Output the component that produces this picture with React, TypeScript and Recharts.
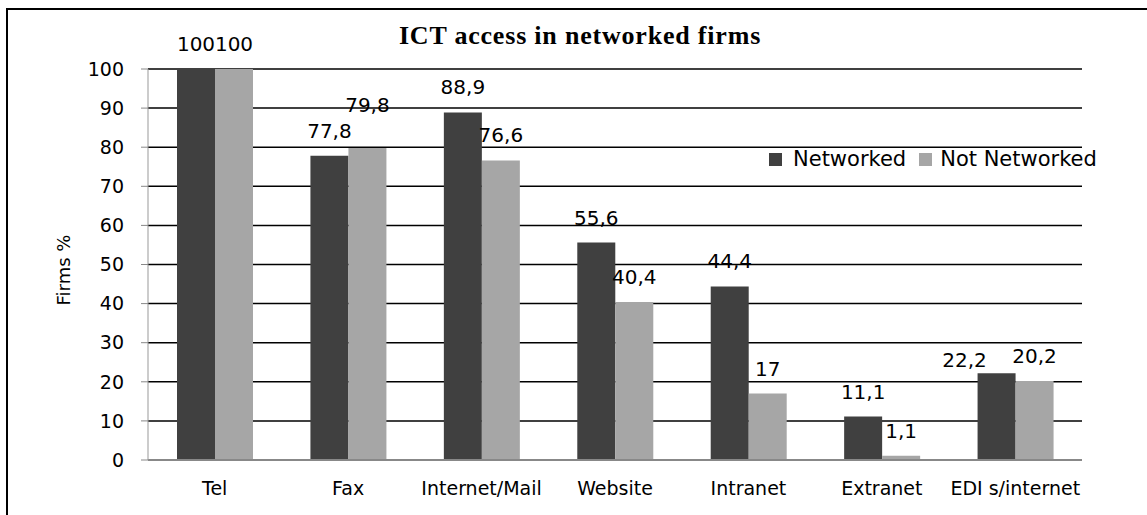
import React from 'react';
import { BarChart, Bar, XAxis, YAxis, CartesianGrid, LabelList, Legend } from 'recharts';

const categories = ['Tel', 'Fax', 'Internet/Mail', 'Website', 'Intranet', 'Extranet', 'EDI s/internet'];
const networked = [100, 77.8, 88.9, 55.6, 44.4, 11.1, 22.2];
const notNetworked = [100, 79.8, 76.6, 40.4, 17, 1.1, 20.2];
const yTicks = [0, 10, 20, 30, 40, 50, 60, 70, 80, 90, 100];

const data = categories.map((cat, i) => ({
  cat,
  networked: networked[i],
  notNetworked: notNetworked[i],
}));

const DARK = '#404040';
const LIGHT = '#a6a6a6';
const FONT = '"DejaVu Sans", sans-serif';

const fmt = (v: any) => String(v).replace('.', ',');

// labels of two close bars get nudged apart, like the spreadsheet did
const makeLabel = (series: 'networked' | 'notNetworked') => (props: any) => {
  const { x, y, width, value, index } = props;
  const mine = series === 'networked' ? networked[index] : notNetworked[index];
  const other = series === 'networked' ? notNetworked[index] : networked[index];
  const diff = mine - other;
  let dx = 0;
  let dy = 0;
  if (diff > 0 && diff < 5) {
    if (series === 'notNetworked') dy = -18;
    else {
      dx = -32;
      dy = 12;
    }
  }
  return (
    <text
      x={x + width / 2 + dx}
      y={y - 18 + dy}
      textAnchor="middle"
      fill="#000"
      fontSize={20}
      fontFamily={FONT}
    >
      {fmt(value)}
    </text>
  );
};

const renderLegend = (props: any) => {
  const { payload } = props;
  return (
    <div style={{ display: 'flex', alignItems: 'center', fontFamily: FONT, fontSize: 21, color: '#000', whiteSpace: 'nowrap' }}>
      {payload.map((p: any, i: number) => (
        <span key={i} style={{ display: 'flex', alignItems: 'center', marginRight: 13 }}>
          <span style={{ width: 13, height: 13, background: p.color, display: 'inline-block', marginRight: i === 0 ? 11 : 8 }} />
          {p.value}
        </span>
      ))}
    </div>
  );
};

export default function App() {
  return (
    <div style={{ position: 'absolute', left: 0, top: 0, width: 1147, height: 515, overflow: 'hidden', background: '#fff' }}>
      <div style={{ position: 'absolute', left: 6, top: 8, width: 1300, height: 700, border: '2px solid #000', boxSizing: 'border-box' }} />
      <div
        style={{
          position: 'absolute',
          left: 330,
          width: 500,
          top: 23,
          textAlign: 'center',
          fontFamily: '"Liberation Serif", serif',
          fontWeight: 'bold',
          fontSize: 26,
          lineHeight: '25px',
          letterSpacing: 0.8,
        }}
      >
        ICT access in networked firms
      </div>
      <div
        style={{
          position: 'absolute',
          left: 63,
          top: 270,
          transform: 'translate(-50%, -50%) rotate(-90deg)',
          fontFamily: FONT,
          fontSize: 18,
          whiteSpace: 'nowrap',
        }}
      >
        Firms %
      </div>
      <div style={{ position: 'absolute', left: 0, top: 0 }}>
        <BarChart
          width={1147}
          height={515}
          data={data}
          margin={{ top: 69, right: 65, bottom: 25, left: 0 }}
          barSize={38}
          barGap={0}
        >
          <CartesianGrid vertical={false} stroke="#000" strokeWidth={1.5} />
          <XAxis
            dataKey="cat"
            height={30}
            axisLine={{ stroke: '#888', strokeWidth: 2 }}
            tickLine={false}
            tickSize={0}
            tickMargin={22}
            interval={0}
            tick={{ fill: '#000', fontSize: 19, fontFamily: FONT }}
          />
          <YAxis
            domain={[0, 100]}
            ticks={yTicks}
            width={148}
            axisLine={{ stroke: '#999' }}
            tickLine={{ stroke: '#888' }}
            tickSize={7}
            tickMargin={17}
            tick={{ fill: '#000', fontSize: 19, fontFamily: FONT }}
          />
          <YAxis
            yAxisId="r"
            orientation="right"
            domain={[0, 100]}
            width={0}
            tick={false}
            tickLine={false}
            axisLine={{ stroke: '#000', strokeWidth: 1.5 }}
          />
          <Legend
            layout="horizontal"
            verticalAlign="middle"
            align="center"
            content={renderLegend}
            wrapperStyle={{ left: 769, top: 147, width: 'auto', height: 'auto' }}
          />
          <Bar dataKey="networked" name="Networked" fill={DARK} isAnimationActive={false}>
            <LabelList dataKey="networked" content={makeLabel('networked')} />
          </Bar>
          <Bar dataKey="notNetworked" name="Not Networked" fill={LIGHT} isAnimationActive={false}>
            <LabelList dataKey="notNetworked" content={makeLabel('notNetworked')} />
          </Bar>
        </BarChart>
      </div>
    </div>
  );
}
